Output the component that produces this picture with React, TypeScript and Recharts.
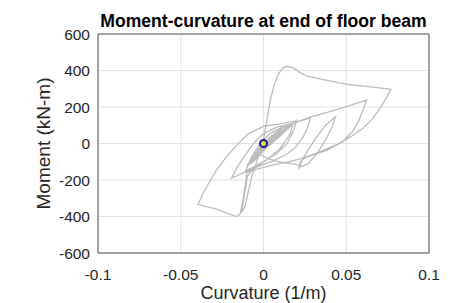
import React from 'react';
import {
  LineChart,
  Line,
  XAxis,
  YAxis,
  CartesianGrid,
  ReferenceArea,
  ReferenceDot,
  Label,
} from 'recharts';

// Curvature (1/m) and moment (kN-m) samples along the hysteresis path
const curvature: number[] = [
  0, 0.004, 0.009, 0.012, 0.009, 0.003, -0.003, -0.006, -0.003, 0.003,
  0.01, 0.015, 0.012, 0.004, -0.004, -0.008, -0.005, 0.002, 0.01, 0.017,
  0.014, 0.005, -0.004, -0.009, -0.006, 0.001, 0.008, 0.014, 0.018, 0.015,
  0.007, -0.002, -0.008, -0.01, -0.007, 0.0, 0.009, 0.016, 0.019, 0.016,
  0.008, -0.001, -0.007, -0.0095, -0.006, 0.001, 0.01, 0.019, 0.0202,
  0.0182, 0.0142, 0.0081, 0, -0.0111,
  -0.0071, -0.002, 0.004, 0.0121, 0.0202, 0.0283,
  0.0267, 0.0239, 0.0192, 0.0132, 0.0061, -0.002, -0.0101, -0.0192,
  -0.0162, -0.0111, -0.0061, 0, 0.0081, 0.0182, 0.0283, 0.0385, 0.0486, 0.0623,
  0.0607, 0.0577, 0.0536, 0.0476, 0.0385, 0.0283, 0.0182, 0.0061, -0.004, -0.0101,
  -0.0111, -0.0125, -0.0142, -0.0162, -0.0213, -0.0283, -0.0344, -0.0395,
  -0.0364, -0.0324, -0.0283, -0.0223, -0.0162, -0.0091, 0, 0.0101, 0.0182,
  0.0162, 0.0101, 0.002, -0.0061, -0.0097, -0.0117, -0.0132,
  -0.0111, -0.0071, -0.003, 0, 0.002, 0.004, 0.0065, 0.0091, 0.0117, 0.0142,
  0.0182, 0.0223, 0.0263, 0.0385, 0.0506, 0.0648, 0.0769,
  0.0749, 0.0708, 0.0658, 0.0597, 0.0526, 0.0445, 0.0344, 0.0263, 0.0223, 0.0213,
  0.0233, 0.0263, 0.0314, 0.0374, 0.0435,
  0.0415, 0.0374, 0.0324, 0.0273, 0.0233,
  0.0182, 0.0081, 0, -0.004, -0.002, 0,
];

const moment: number[] = [
  0, 35, 70, 88, 60, 10, -35, -60, -40, 15,
  75, 100, 72, 10, -55, -90, -68, -10, 60, 108,
  80, 10, -65, -105, -85, -30, 35, 85, 112, 82,
  20, -50, -100, -118, -98, -40, 40, 95, 120, 92,
  25, -45, -95, -120, -100, -30, 50, 118, 130,
  72, 0, -54, -99, -153,
  -72, 0, 54, 94, 117, 140,
  90, 36, -22, -63, -94, -121, -153, -189,
  -135, -63, 0, 54, 90, 112, 144, 171, 198, 238,
  198, 126, 63, 9, -36, -68, -94, -117, -141, -159,
  -234, -315, -387, -400, -384, -360, -346, -333,
  -270, -207, -144, -72, -9, 54, 94, 108, 122,
  54, -27, -90, -135, -180, -288, -378,
  -342, -180, -72, 18, 126, 234, 324, 382, 414, 423,
  414, 387, 369, 346, 324, 310, 297,
  261, 198, 135, 81, 36, -4, -45, -72, -99, -140,
  -90, -45, 27, 99, 148,
  90, 18, -54, -108, -126,
  -112, -99, -72, -45, -18, 0,
];

const xTicks: number[] = [-0.1, -0.05, 0, 0.05, 0.1];
const yTicks: number[] = [-600, -400, -200, 0, 200, 400, 600];
const marker: number[] = [0, 0];

const data = curvature.map((c, i) => ({ x: c, y: moment[i] }));

const FONT = '"Liberation Sans", Arial, Helvetica, sans-serif';
const TEXT = '#262626';

const XLabels = (props: any) => {
  const vb = props.viewBox || { x: 98, y: 253, width: 331, height: 30 };
  const cx = vb.x + vb.width / 2;
  return (
    <g>
      <text x={cx} y={299} textAnchor="middle" fontFamily={FONT} fontSize={18} fill={TEXT}>
        Curvature (1/m)
      </text>
      <text x={cx} y={27} textAnchor="middle" fontFamily={FONT} fontSize={17.6} fontWeight="bold" fill="#000">
        Moment-curvature at end of floor beam
      </text>
    </g>
  );
};

const YLabelContent = (props: any) => {
  const vb = props.viewBox || { x: 0, y: 34, width: 98, height: 219 };
  const cy = vb.y + vb.height / 2;
  const cx = 43;
  return (
    <text
      x={cx}
      y={cy}
      transform={`rotate(-90 ${cx} ${cy})`}
      textAnchor="middle"
      dominantBaseline="central"
      fontFamily={FONT}
      fontSize={19}
      fill={TEXT}
    >
      Moment (kN-m)
    </text>
  );
};

export default function App() {
  return (
    <div style={{ position: 'fixed', left: 0, top: 0, width: 452, height: 303, background: '#fff' }}>
      <LineChart
        width={452}
        height={303}
        data={data}
        margin={{ top: 34, right: 23, bottom: 20, left: 0 }}
      >
        <CartesianGrid stroke="#e3e3e3" strokeWidth={1} />
        <XAxis
          type="number"
          dataKey="x"
          domain={[-0.1, 0.1]}
          ticks={xTicks}
          allowDataOverflow
          axisLine={false}
          tickLine={false}
          tickSize={0}
          tickMargin={16}
          height={30}
          tick={{ fontFamily: FONT, fontSize: 15.5, fill: TEXT }}
          label={<Label content={XLabels} />}
        />
        <YAxis
          type="number"
          domain={[-600, 600]}
          ticks={yTicks}
          allowDataOverflow
          axisLine={false}
          tickLine={false}
          tickSize={0}
          tickMargin={8}
          width={98}
          tick={{ fontFamily: FONT, fontSize: 15.5, fill: TEXT }}
          label={<Label content={YLabelContent} />}
        />
        <ReferenceArea
          x1={-0.1}
          x2={0.1}
          y1={-600}
          y2={600}
          fill="none"
          fillOpacity={0}
          stroke="#555555"
          strokeWidth={1}
          ifOverflow="visible"
        />
        <Line
          type="linear"
          dataKey="y"
          stroke="#bcbcbc"
          strokeWidth={1.3}
          dot={false}
          activeDot={false}
          isAnimationActive={false}
        />
        <ReferenceDot
          x={marker[0]}
          y={marker[1]}
          r={3.5}
          fill="#dede3c"
          stroke="#1c1c8e"
          strokeWidth={2}
          ifOverflow="visible"
        />
      </LineChart>
    </div>
  );
}
